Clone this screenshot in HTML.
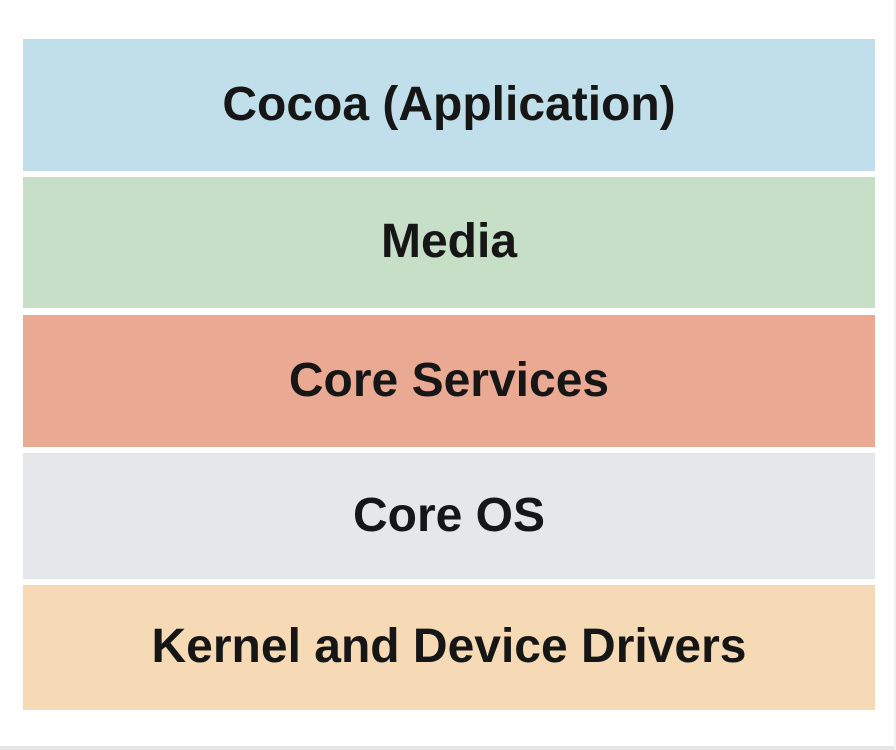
<!DOCTYPE html>
<html><head><meta charset="utf-8"><style>
html,body{margin:0;padding:0;width:896px;height:750px;background:#fff;overflow:hidden;position:relative}
.l{position:absolute;left:23px;width:852px;display:flex;align-items:center;justify-content:center;font-family:"Liberation Sans",sans-serif;font-weight:bold;font-size:48px;color:#161616;padding-bottom:2px;box-sizing:border-box}
.b{position:absolute;left:0;top:746px;width:896px;height:4px;background:#e6e6e6}
.r{position:absolute;left:894px;top:0;width:2px;height:750px;background:#f0f0f0}
</style></head><body>
<div class="l" style="top:39px;height:132px;background:#c1dfea">Cocoa (Application)</div>
<div class="l" style="top:177px;height:131px;background:#c7dfc6">Media</div>
<div class="l" style="top:315px;height:132px;background:#eaa993">Core Services</div>
<div class="l" style="top:453px;height:126px;background:#e5e7e9">Core OS</div>
<div class="l" style="top:585px;height:125px;background:#f6dab6">Kernel and Device Drivers</div>
<div class="b"></div>
<div class="r"></div>
</body></html>
